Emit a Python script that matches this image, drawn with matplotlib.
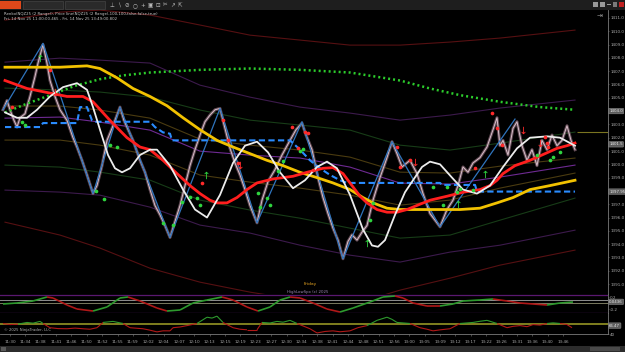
import numpy as np
import matplotlib
matplotlib.use("Agg")
import matplotlib.pyplot as plt
from matplotlib.patches import Rectangle
from matplotlib.collections import LineCollection

# ---------------- data (bar index, value) ----------------
price = [(3,1404.1),(7,1404.8),(10,1404.1),(14,1403.3),(17,1402.8),(20,1403.5),(25,1403.8),(30,1405.1),
         (35,1406.6),(38,1407.6),(43,1409.0),(47,1407.6),(50,1406.3),(55,1405.1),(60,1404.1),(67,1403.3),
         (73,1402.0),(77,1401.3),(82,1400.3),(87,1399.2),(93,1397.8),(97,1398.4),(102,1399.9),(107,1401.8),
         (112,1402.7),(117,1403.7),(120,1404.3),(124,1403.3),(127,1402.8),(133,1401.8),(140,1400.3),(145,1399.4),
         (150,1398.1),(155,1396.9),(160,1396.2),(165,1395.4),(170,1394.5),(175,1395.7),(180,1396.9),(185,1398.4),
         (190,1399.9),(195,1401.1),(200,1402.2),(205,1403.2),(210,1403.7),(215,1404.1),(220,1404.2),(225,1402.7),
         (230,1401.2),(235,1400.1),(240,1399.2),(245,1398.1),(250,1396.9),(257,1395.6),(262,1397.3),(268,1398.7),
         (275,1399.6),(282,1400.7),(290,1401.8),(296,1402.6),(302,1403.1),(306,1402.2),(312,1401.1),(318,1399.0),
         (323,1397.5),(328,1396.3),(333,1395.2),(338,1394.3),(343,1392.9),(348,1394.2),(352,1394.7),(357,1394.3),
         (362,1394.9),(367,1395.4),(373,1397.3),(380,1399.0),(387,1400.5),(392,1401.7),(397,1400.8),(402,1399.8),
         (410,1400.3),(417,1399.3),(423,1397.8),(430,1396.3),(435,1395.8),(440,1395.3),(447,1396.6),(453,1397.3),
         (458,1398.4),(463,1399.8),(468,1399.4),(473,1400.1),(480,1400.5),(487,1401.3),(493,1402.6),(497,1403.5),
         (500,1401.4),(503,1401.8),(508,1400.7),(513,1402.7),(517,1403.2),(522,1401.4),(527,1400.3),(532,1401.1),
         (537,1399.9),(542,1401.8),(547,1401.1),(552,1402.2),(557,1401.4),(562,1401.8),(567,1402.9),(571,1401.8),
         (575,1401.1)]

zigzag = [(3,1404.1),(43,1409.1),(93,1397.8),(120,1404.3),(170,1394.5),(220,1404.2),(257,1395.6),
          (302,1403.2),(343,1392.9),(392,1401.7),(440,1395.3),(515,1403.4)]

white_osc = [(5,1403.9),(17,1403.5),(27,1403.5),(37,1404.1),(50,1405.1),(63,1405.8),(77,1406.1),(87,1405.6),
             (93,1404.3),(100,1402.6),(108,1400.7),(115,1399.7),(122,1399.4),(130,1399.7),(140,1400.7),(150,1401.1),
             (157,1401.1),(170,1399.9),(183,1398.1),(195,1396.6),(207,1396.0),(220,1397.7),(233,1400.1),(245,1401.4),
             (257,1401.7),(268,1400.9),(280,1399.4),(293,1398.2),(305,1398.8),(317,1399.8),(327,1400.2),(337,1399.7),
             (350,1397.7),(363,1395.1),(372,1393.9),(378,1393.8),(385,1394.3),(395,1396.2),(405,1397.9),(413,1398.8),
             (422,1399.8),(430,1400.2),(440,1400.0),(452,1399.0),(463,1398.1),(477,1397.8),(490,1398.4),(503,1399.8),
             (517,1401.2),(530,1402.0),(547,1402.1),(560,1402.0),(570,1401.6),(575,1401.4)]

red_ma = [(5,1406.3),(27,1405.7),(47,1405.4),(67,1405.1),(83,1405.1),(93,1404.7),(110,1403.3),(127,1402.0),
          (140,1401.3),(150,1401.1),(163,1400.3),(177,1399.3),(190,1398.4),(200,1397.8),(210,1397.3),(217,1397.1),
          (227,1397.1),(237,1397.5),(247,1398.1),(257,1398.6),(273,1398.9),(293,1399.1),(307,1399.4),(323,1399.7),
          (333,1399.75),(343,1399.3),(350,1398.6),(360,1397.6),(367,1397.1),(377,1396.6),(387,1396.4),(397,1396.4),
          (407,1396.6),(420,1397.0),(430,1397.3),(447,1397.6),(463,1397.9),(480,1398.1),(490,1398.4),(497,1398.8),
          (503,1399.3),(515,1399.9),(530,1400.3),(545,1400.8),(557,1401.2),(567,1401.4),(575,1401.6)]

yellow_ma = [(5,1407.3),(33,1407.3),(60,1407.3),(87,1407.4),(100,1407.2),(117,1406.5),(133,1405.7),(150,1405.1),
             (167,1404.4),(183,1403.5),(200,1402.6),(217,1401.8),(233,1401.3),(250,1400.8),(267,1400.3),(283,1399.9),
             (300,1399.4),(317,1399.0),(333,1398.6),(350,1398.1),(363,1397.5),(373,1397.1),(387,1396.7),(400,1396.6),
             (430,1396.6),(460,1396.6),(480,1396.7),(497,1397.1),(513,1397.5),(530,1398.1),(550,1398.4),(575,1398.8)]

blue_stop = [(5,1402.8),(40,1402.8),(43,1403.1),(77,1403.1),(80,1404.3),(87,1404.3),(92,1403.3),(95,1403.2),
             (150,1403.2),(155,1402.8),(163,1402.4),(170,1402.3),(172,1401.8),(290,1401.8),(300,1401.1),
             (310,1400.3),(320,1399.7),(330,1399.2),(340,1398.8),(347,1398.6),(440,1398.6),(442,1398.45),
             (475,1398.45),(477,1397.95),(575,1397.95)]

green_dotted = [(5,1403.9),(25,1404.5),(50,1405.2),(75,1405.9),(100,1406.4),(125,1406.7),(150,1406.9),
                (200,1407.1),(250,1407.2),(300,1407.1),(350,1406.9),(400,1406.3),(430,1405.7),(460,1405.2),
                (500,1404.7),(540,1404.3),(575,1404.1)]

env_bars = [5, 60, 100, 150, 200, 250, 300, 350, 400, 450, 500, 575]
env_darkred_top = [1410.84, 1411.44, 1411.59, 1411.22, 1410.47, 1409.71, 1409.34, 1408.96, 1408.96, 1409.19, 1409.49, 1410.09]
env_purple_top = [1407.68, 1407.98, 1407.83, 1407.61, 1405.95, 1405.05, 1404.30, 1403.85, 1403.32, 1403.70, 1404.23, 1404.83]
env_green_top = [1405.73, 1405.58, 1405.43, 1405.05, 1404.08, 1403.32, 1402.95, 1402.57, 1401.44, 1401.07, 1401.59, 1402.42]
env_olive_top = [1404.38, 1404.38, 1404.08, 1403.47, 1401.89, 1401.44, 1401.07, 1400.54, 1399.41, 1399.34, 1399.86, 1400.47]
env_purple_mid = [1403.47, 1403.55, 1403.17, 1402.57, 1400.99, 1400.69, 1400.47, 1399.79, 1398.59, 1398.51, 1399.04, 1399.94]
env_olive_low = [1401.82, 1401.82, 1401.44, 1400.69, 1399.19, 1398.66, 1398.21, 1397.68, 1396.93, 1397.31, 1398.21, 1399.34]
env_green_low = [1399.94, 1399.79, 1399.41, 1398.81, 1397.31, 1396.56, 1395.95, 1395.20, 1394.45, 1394.68, 1395.80, 1397.46]
env_purple_low = [1398.06, 1397.91, 1397.68, 1396.78, 1395.43, 1394.83, 1393.92, 1393.17, 1392.65, 1393.40, 1393.92, 1395.05]
env_darkred_low = [1395.65, 1394.68, 1393.70, 1392.19, 1391.14, 1390.39, 1389.79, 1389.41, 1390.54, 1391.44, 1392.42, 1393.55]

green_up_arrows = [(40,1408.0),(206,1399.2),(367,1394.1),(485,1399.3),(458,1397.0)]
green_dots = [(22,1403.17),(25,1402.95),(96,1398.0),(104,1397.4),(110,1401.44),(117,1401.29),(163,1395.58),
              (173,1395.43),(182,1397.16),(190,1397.53),(197,1397.46),(200,1396.93),(258,1397.83),(260,1396.78),
              (267,1397.46),(270,1396.93),(278,1399.49),(283,1400.24),(300,1400.99),(303,1401.14),(370,1395.80),
              (373,1397.08),(433,1398.29),(443,1396.93),(447,1398.29),(457,1397.91),(460,1398.14),(473,1398.06),
              (537,1400.69),(550,1400.32),(553,1400.54),(560,1400.92)]
red_down_arrows = [(55,1405.43),(240,1399.94),(415,1400.17),(523,1402.57),(540,1401.59)]
red_dots = [(12,1404.30),(50,1407.08),(223,1403.32),(228,1401.82),(238,1400.09),(202,1398.59),(292,1402.80),
            (298,1401.22),(305,1402.42),(308,1402.35),(313,1399.56),(397,1401.29),(400,1399.79),(410,1400.32),
            (475,1399.71),(492,1403.85),(497,1402.72),(502,1401.44),(545,1402.04),(547,1401.59),(548,1401.29)]

price_marker_level = 1402.45
yticks_main = [1391.0, 1392.0, 1393.0, 1394.0, 1395.0, 1396.0, 1397.0, 1399.0, 1400.0, 1401.0,
               1402.0, 1403.0, 1405.0, 1406.0, 1407.0, 1408.0, 1409.0, 1410.0, 1411.0]
highlight_main = [(1404.0, "1404.0"), (1401.5, "1401.5"), (1397.95, "1397.95")]

osc = [(3,-0.033),(17,0.0),(33,0.067),(47,0.2),(53,0.167),(67,-0.067),(77,-0.2),(93,-0.267),(107,-0.133),
       (120,0.167),(128,0.2),(140,0.067),(157,-0.167),(167,-0.267),(180,-0.233),(193,0.0),(207,0.1),(222,0.2),
       (233,0.1),(247,-0.133),(258,-0.267),(270,-0.133),(280,0.1),(290,0.2),(300,0.167),(313,0.0),(327,-0.2),
       (340,-0.3),(353,-0.167),(370,0.033),(383,0.2),(395,0.233),(403,0.167),(413,0.0),(427,-0.1),(440,-0.1),
       (453,-0.033),(463,0.067),(480,0.1),(493,0.133),(507,0.067),(520,0.0),(533,-0.033),(547,-0.067),
       (560,0.0),(573,0.033)]
osc_levels = [0.1, 0.0]

rsi = [(3,73.0),(10,69.7),(18,71.0),(27,76.3),(33,74.0),(40,79.6),(43,73.0),(50,59.8),(58,57.0),(67,56.5),
       (75,58.5),(83,56.5),(90,55.0),(97,59.8),(103,76.3),(108,78.0),(113,79.6),(123,73.0),(130,59.8),
       (137,58.0),(143,56.5),(150,52.0),(157,46.6),(163,50.0),(170,49.9),(173,59.8),(180,62.0),(187,66.4),
       (197,73.0),(207,92.8),(212,90.0),(217,96.1),(223,76.3),(233,59.8),(240,55.0),(247,53.2),(257,53.2),
       (262,76.3),(270,74.5),(277,79.6),(283,77.0),(290,82.9),(297,73.0),(310,56.5),(317,43.3),(325,48.0),
       (333,49.9),(340,47.0),(350,49.9),(358,60.0),(367,66.4),(377,82.9),(387,92.8),(392,86.0),(397,76.3),
       (410,73.0),(420,59.8),(427,55.0),(433,49.9),(440,53.0),(450,56.5),(460,73.0),(473,76.3),(480,80.0),
       (487,82.9),(497,73.0),(507,59.8),(513,64.0),(520,66.4),(527,63.0),(533,69.7),(540,68.0),(547,73.0),
       (553,75.0),(560,73.0),(567,69.7),(572,59.8)]
rsi_level = 73.0

time_labels = ["11:30","11:34","11:38","11:41","11:46","11:50","11:52","11:55","11:59","12:02","12:04",
               "12:07","12:10","12:13","12:15","12:19","12:23","12:27","12:30","12:34","12:38","12:41",
               "12:44","12:48","12:51","12:56","13:00","13:05","13:09","13:12","13:17","13:22","13:26",
               "13:31","13:36","13:40","13:46"]

# ---------------- figure ----------------
W, H = 625, 352
plt.rcParams["font.family"] = ["DejaVu Sans", "Noto Sans CJK SC"]
fig = plt.figure(figsize=(6.25, 3.52), dpi=100, facecolor="black")

def fbox(x, y, w, h):
    return [x / W, 1 - (y + h) / H, w / W, h / H]

def rect(x, y, w, h, fc, ec="none", lw=0.0, z=5):
    fig.patches.append(Rectangle((x / W, 1 - (y + h) / H), w / W, h / H, transform=fig.transFigure,
                                 facecolor=fc, edgecolor=ec, linewidth=lw, zorder=z))

def ftext(x, y, s, **kw):
    fig.text(x / W, 1 - y / H, s, **kw)

XMAX = 608
AXC = "#7a7a7a"
TXC = "#a8a8a8"
LBL = 3.0

ax = fig.add_axes(fbox(0, 10, XMAX, 284))
ax2 = fig.add_axes(fbox(0, 294, XMAX, 19))
ax3 = fig.add_axes(fbox(0, 313, XMAX, 21))

for a in (ax, ax2, ax3):
    a.set_facecolor("black")
    a.set_xlim(0, XMAX)
    for s in ("top", "left", "bottom"):
        a.spines[s].set_visible(False)
    a.spines["right"].set_color(AXC)
    a.spines["right"].set_linewidth(0.6)
    a.yaxis.tick_right()
    a.tick_params(axis="y", colors=AXC, labelcolor=TXC, labelsize=LBL, length=1.0, width=0.4, pad=0.6)
    a.tick_params(axis="x", bottom=False, labelbottom=False)

def xy(pairs):
    arr = np.array(pairs, dtype=float)
    return arr[:, 0], arr[:, 1]

# envelopes
env_specs = [(env_darkred_top, "#561012"), (env_purple_top, "#3c1a4c"), (env_green_top, "#173c17"),
             (env_olive_top, "#4a3b10"), (env_purple_mid, "#6e2a92"), (env_olive_low, "#4a3b10"),
             (env_green_low, "#173c17"), (env_purple_low, "#3c1a4c"), (env_darkred_low, "#561012")]
for vals, c in env_specs:
    ax.plot(env_bars, vals, color=c, lw=0.8, zorder=1)

gx, gy = xy(green_dotted)
ax.plot(gx, gy, color="#2ccc2c", lw=1.8, linestyle=(0, (0.8, 1.2)), zorder=3)

bx, by = xy(blue_stop)
ax.plot(bx, by, color="#2a8cff", lw=1.5, linestyle=(0, (3, 1.6)), zorder=4)

px_, py_ = xy(price)
ax.plot(px_, py_, color="#7d5f6c", lw=2.2, alpha=0.75, zorder=2)
ax.plot(px_, py_, color="#d8c0ca", lw=0.7, zorder=2.5)

zx, zy = xy(zigzag)
ax.plot(zx, zy, color="#2f74bd", lw=0.9, zorder=3)

yx, yy = xy(yellow_ma)
ax.plot(yx, yy, color="#f2c200", lw=2.0, zorder=5)
rx, ry = xy(red_ma)
ax.plot(rx, ry, color="#ff1e1e", lw=2.0, zorder=6)
wx, wy = xy(white_osc)
ax.plot(wx, wy, color="#ececec", lw=1.3, zorder=7)

ax.hlines(price_marker_level, 577, XMAX, color="#7a7420", lw=0.8, zorder=3)

for pts, mk, c, s in [(green_dots, "o", "#2fd43f", 7), (red_dots, "o", "#ff2a2a", 7),
                      (green_up_arrows, r"$\uparrow$", "#2fd43f", 28),
                      (red_down_arrows, r"$\downarrow$", "#ff2a2a", 28)]:
    mx, my = xy(pts)
    ax.scatter(mx, my, marker=mk, color=c, s=s, linewidths=0, zorder=8)

ax.set_ylim(1390.25, 1411.6)
ax.set_yticks(yticks_main)
ax.set_yticklabels([f"{v:.1f}" for v in yticks_main])

ytr = ax.get_yaxis_transform()
for v, lab in highlight_main:
    ax.text(1.002, v, lab, transform=ytr, fontsize=2.8, color="#ececec", va="center", ha="left",
            bbox=dict(boxstyle="round,pad=0.18", fc="#5c5c5c", ec="#8a8a8a", lw=0.4), zorder=10, clip_on=False)

# oscillator panel
ax2.set_ylim(-0.333, 0.3)
ax2.axhline(0.28, color="#5a1870", lw=0.9)
ax2.axhline(-0.32, color="#5a1870", lw=0.9)
ax2.axhline(osc_levels[0], color="#8e8e8e", lw=0.7)
ax2.axhline(osc_levels[1], color="#7a7a60", lw=0.7)
ox, oy = xy(osc)
segs = np.stack([np.column_stack([ox[:-1], oy[:-1]]), np.column_stack([ox[1:], oy[1:]])], axis=1)
cols = ["#2e9a2e" if b > a else "#b01818" for a, b in zip(oy[:-1], oy[1:])]
ax2.add_collection(LineCollection(segs, colors=cols, linewidths=1.2))
ax2.set_yticks([0.2, -0.2])
ax2.set_yticklabels(["0.2", "-0.2"])
ax2.text(1.002, 0.04, "0.0436", transform=ax2.get_yaxis_transform(), fontsize=2.8, color="#ececec",
         va="center", ha="left", bbox=dict(boxstyle="round,pad=0.18", fc="#5c5c5c", ec="#8a8a8a", lw=0.4),
         clip_on=False)

# rsi panel
ax3.set_ylim(40, 106)
ax3.axhline(rsi_level, color="#8a8a22", lw=1.3)
tx, ty = xy(rsi)
segs3 = np.stack([np.column_stack([tx[:-1], ty[:-1]]), np.column_stack([tx[1:], ty[1:]])], axis=1)
cols3 = ["#2e9a2e" if (a + b) / 2 >= rsi_level else "#b01818" for a, b in zip(ty[:-1], ty[1:])]
ax3.add_collection(LineCollection(segs3, colors=cols3, linewidths=0.8))
ax3.set_yticks([40])
ax3.set_yticklabels(["40"])
ax3.text(1.002, 66.47, "66.47", transform=ax3.get_yaxis_transform(), fontsize=2.8, color="#ececec",
         va="center", ha="left", bbox=dict(boxstyle="round,pad=0.18", fc="#5c5c5c", ec="#8a8a8a", lw=0.4),
         clip_on=False)
ax3.spines["bottom"].set_visible(True)
ax3.spines["bottom"].set_color(AXC)
ax3.spines["bottom"].set_linewidth(0.6)
tick_pos = np.linspace(10, 563, len(time_labels))
ax3.set_xticks(tick_pos)
ax3.set_xticklabels(time_labels)
ax3.tick_params(axis="x", bottom=True, labelbottom=True, colors=AXC, labelcolor=TXC, labelsize=3.0,
                length=1.5, width=0.4, pad=2.5)

# ---------------- chrome ----------------
rect(0, 0, W, 10, "#1e1e1e", z=1)
rect(0, 1, 21, 8, "#e0481a", z=6)
ftext(10.5, 5.2, "Chart", fontsize=3.6, color="white", ha="center", va="center")
rect(23, 1, 40, 8, "#2a2a2a", ec="#4a4a4a", lw=0.4, z=6)
ftext(26, 5.2, "NQZ25", fontsize=3.2, color="#c8c8c8", va="center")
ftext(59, 5.2, "\u25be", fontsize=3.5, color="#c8c8c8", va="center", ha="center")
rect(65, 1, 40, 8, "#2a2a2a", ec="#4a4a4a", lw=0.4, z=6)
ftext(68, 5.2, "2 Range", fontsize=3.2, color="#c8c8c8", va="center")
ftext(101, 5.2, "\u25be", fontsize=3.5, color="#c8c8c8", va="center", ha="center")
for i, g in enumerate(["\u22a5", "\u2216", "\u2298", "\u25cb", "+", "\u25a3", "\u22a1", "\u2702", "\u2197", "\u21f1"]):
    ftext(112 + i * 7.6, 5.2, g, fontsize=4.0, color="#bdbdbd", va="center", ha="center")
rect(593, 2, 5, 5, "#9a9a9a", z=6)
rect(600, 2, 5, 5, "#9a9a9a", z=6)
rect(607, 4, 4, 1, "#9a9a9a", z=6)
rect(613, 2, 4, 5, "#7a7a7a", z=6)
rect(619, 2, 5, 5, "#c02020", z=6)

ftext(4, 13.5, "Renko(NQZ25 (2 Range)), Price line(NQZ25 (2 Range),100,100,false,false,true)",
      fontsize=2.8, color="#c8c8c8", va="center")
ftext(4, 19, "Fri, 14 Nov 25 11:00:00.465 - Fri, 14 Nov 25 13:49:00.802", fontsize=2.8,
      color="#c8c8c8", va="center")
ftext(600, 17, "\u21e5", fontsize=5, color="#9a9a9a", va="center", ha="center")

ftext(310, 284.5, "Friday", fontsize=3.2, color="#e0a020", va="center", ha="center")
ftext(287, 291.5, "HighLowSpx (c) 2025", fontsize=2.8, color="#9c86b4", va="center")
ftext(4, 330.5, "\u00a9 2025 NinjaTrader, LLC", fontsize=2.7, color="#b0b0b0", va="center")

rect(0, 346, W, 6, "#2c2c2c", z=1)
rect(1, 347, 5, 4, "#5a5a5a", z=2)
rect(590, 347, 30, 4, "#4a4a4a", z=2)

fig.savefig("out.png", dpi=100, facecolor="black")
